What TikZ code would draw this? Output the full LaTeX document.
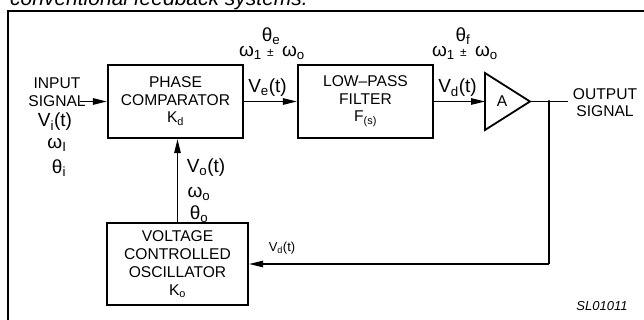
\documentclass[tikz,border=0pt]{standalone}
\usepackage{fontspec}
\setmainfont{Liberation Sans}
\usetikzlibrary{arrows.meta}

\newcommand{\fsz}[2]{\fontsize{#1}{#2}\selectfont}
\newcommand{\lo}[1]{\textsubscript{#1}}

\tikzset{
  block/.style={draw, line width=2.2pt, align=center, inner sep=0pt, font=\fsz{15.6}{17.5}},
  lbl/.style={inner sep=0pt, align=center, font=\fsz{15.6}{17.5}},
  big/.style={inner sep=0pt, font=\fsz{19}{20}},
  small/.style={inner sep=0pt, font=\fsz{13}{14}},
  sig/.style={line width=1.2pt, -{Triangle[length=14pt,width=6.5pt]}},
  wire/.style={line width=1.6pt},
}

\begin{document}
\begin{tikzpicture}[x=1pt, y=-1pt]
	\useasboundingbox (0,0) rectangle (644,320);
	\clip (0,0) rectangle (644,320);
	% caption line cut off at the top
	\node[anchor=base west, inner sep=0pt, font=\fsz{21}{22}\itshape] (cap) at (10,6) {conventional feedback systems.};
	% frame
	\draw[line width=2.2pt] (8,340) |- (660,11);

	% blocks
	\node[block, minimum width=135, minimum height=73] (pc) at (175.5,101.5) {PHASE\\COMPARATOR\\K\lo{d}};
	\node[block, minimum width=135, minimum height=73] (lpf) at (365.5,101.5) {LOW--PASS\\FILTER\\F\lo{(s)}};
	\node[block, minimum width=141, minimum height=82, font=\fsz{15.6}{18}] (vco) at (177.5,264) {VOLTAGE\\CONTROLLED\\OSCILLATOR\\K\lo{o}};
	% amplifier
	\coordinate (ampin) at (485,101.5);
	\coordinate (ampout) at (530,101.5);
	\draw[line width=1.8pt, line join=miter] (485,73) -- (ampout) -- (485,130) -- cycle;
	\node[lbl] (amp) at (502,101.5) {A};

	% connectors
	\coordinate (insig) at (80,101.5);
	\coordinate (outsig) at (568,101.5);
	\coordinate (jn) at (549,101.5);
	\draw[sig] (insig) -- (pc.west);
	\draw[sig] (pc.east) -- (lpf.west);
	\draw[sig] (lpf.east) -- (ampin);
	\draw[wire] (ampout) -- (outsig);
	\fill (jn) circle (1.6);
	\draw[wire] (jn) -- (jn |- vco.east);
	\draw[sig] (jn |- vco.east) -- (vco.east);
	\draw[sig] (vco.north) -- (vco.north |- pc.south);

	% input labels
	\node[lbl] (inlbl) at (57,92) {INPUT\\SIGNAL};
	\node[big] (vi) at (55,122) {V\lo{i}(t)};
	\node[big] (wi) at (57,145) {ω\lo{I}};
	\node[big] (thi) at (59,168) {θ\lo{i}};

	% comparator output labels
	\node[big] (ve) at (267.5,88) {V\lo{e}(t)};
	\node[big] (the) at (271,36) {θ\lo{e}};
	\node[big] (we) at (272,53) {ω\lo{1} {\fsz{12}{12}±}\, ω\lo{o}};

	% filter output labels
	\node[big] (vd) at (457.5,88) {V\lo{d}(t)};
	\node[big] (thf) at (463,36) {θ\lo{f}};
	\node[big] (wf) at (465,53) {ω\lo{1} {\fsz{12}{12}±}\, ω\lo{o}};

	% output
	\node[lbl] (outlbl) at (605,102.5) {OUTPUT\\SIGNAL};

	% feedback labels
	\node[big] (vo) at (206,168) {V\lo{o}(t)};
	\node[big] (wo) at (199,194) {ω\lo{o}};
	\node[big] (tho) at (199,214) {θ\lo{o}};
	\node[small] (vdf) at (282,248) {V\lo{d}(t)};

	\node[small, font=\fsz{13}{14}\itshape] (ref) at (602,306) {SL01011};
\end{tikzpicture}
\end{document}
